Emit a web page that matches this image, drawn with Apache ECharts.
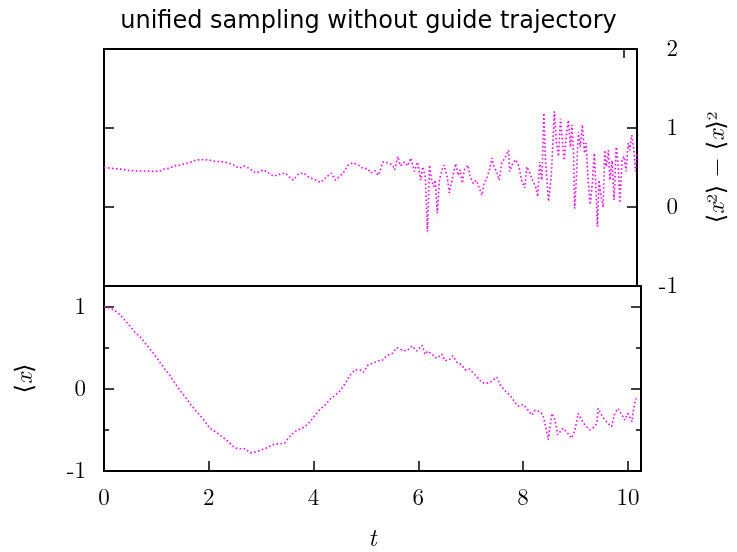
<!DOCTYPE html>
<html>
<head>
<meta charset="utf-8">
<title>unified sampling without guide trajectory</title>
<script src="https://cdn.jsdelivr.net/npm/echarts@6/dist/echarts.min.js"></script>
<style>
  html, body { margin: 0; padding: 0; background: #ffffff; }
  #chart { width: 737px; height: 552px; }
</style>
</head>
<body>
<div id="chart"></div>
<script>
// Variance <x^2> - <x>^2 versus time t (upper panel)
const varT = [0.00,0.15,0.30,0.50,0.78,1.07,1.16,1.26,1.35,1.45,1.64,1.77,1.93,2.02,2.12,2.31,2.46,2.60,2.69,2.79,2.92,3.07,3.26,3.40,3.49,3.56,3.64,3.74,3.84,3.93,4.08,4.16,4.26,4.37,4.45,4.60,4.69,4.79,4.89,4.98,5.08,5.13,5.21,5.27,5.32,5.36,5.46,5.55,5.59,5.65,5.70,5.78,5.84,5.90,5.97,6.03,6.09,6.13,6.18,6.22,6.26,6.30,6.34,6.37,6.41,6.45,6.50,6.54,6.60,6.64,6.70,6.76,6.81,6.85,6.89,6.93,7.00,7.04,7.10,7.16,7.21,7.27,7.31,7.37,7.42,7.46,7.50,7.56,7.60,7.65,7.71,7.78,7.80,7.86,7.92,7.98,8.03,8.09,8.13,8.19,8.24,8.30,8.34,8.38,8.42,8.46,8.49,8.55,8.60,8.66,8.70,8.74,8.78,8.82,8.85,8.89,8.93,8.97,9.00,9.03,9.05,9.08,9.12,9.16,9.20,9.24,9.27,9.31,9.35,9.39,9.43,9.47,9.49,9.52,9.56,9.60,9.63,9.66,9.70,9.73,9.77,9.81,9.85,9.89,9.92,9.96,10.00,10.04,10.08,10.11,10.15,10.19,10.22,10.25];
const varV = [0.50,0.49,0.48,0.46,0.455,0.45,0.48,0.49,0.52,0.53,0.56,0.595,0.60,0.595,0.58,0.57,0.545,0.49,0.52,0.49,0.43,0.47,0.39,0.42,0.43,0.38,0.34,0.42,0.43,0.38,0.34,0.31,0.37,0.43,0.34,0.43,0.53,0.56,0.53,0.49,0.48,0.43,0.46,0.40,0.48,0.57,0.56,0.53,0.47,0.64,0.52,0.57,0.52,0.62,0.45,0.57,0.34,0.51,0.38,-0.31,0.53,0.34,0.26,0.34,-0.08,0.34,0.47,0.53,0.38,0.18,0.36,0.55,0.40,0.47,0.30,0.47,0.53,0.38,0.30,0.34,0.25,0.15,0.30,0.38,0.49,0.62,0.51,0.43,0.34,0.56,0.62,0.72,0.45,0.55,0.60,0.51,0.34,0.24,0.51,0.43,0.34,0.26,0.13,0.57,0.34,1.19,0.59,0.07,0.38,1.21,0.81,0.64,1.12,0.81,0.59,0.89,1.10,0.76,1.04,0.68,-0.02,0.30,0.95,0.76,1.04,0.68,0.81,0.34,0.03,0.30,0.68,0.09,-0.25,0.34,0.13,0.00,0.72,0.51,0.72,0.34,0.59,0.09,0.76,0.51,0.05,0.59,0.64,0.45,0.81,0.72,0.91,0.72,0.45,0.68];

// Mean <x> versus time t (lower panel)
const meanT = [0.00,0.11,0.21,0.31,0.40,0.50,0.59,0.69,0.78,0.88,0.97,1.07,1.16,1.26,1.35,1.45,1.55,1.64,1.74,1.83,1.93,2.02,2.12,2.21,2.31,2.40,2.50,2.60,2.69,2.79,2.88,2.98,3.07,3.17,3.26,3.36,3.45,3.53,3.64,3.74,3.84,3.93,4.03,4.12,4.22,4.31,4.41,4.50,4.60,4.69,4.79,4.89,4.95,5.04,5.13,5.23,5.32,5.39,5.50,5.59,5.69,5.78,5.88,5.97,6.07,6.13,6.18,6.26,6.35,6.45,6.51,6.60,6.66,6.74,6.83,6.89,6.98,7.08,7.18,7.27,7.37,7.43,7.50,7.56,7.65,7.75,7.84,7.90,8.00,8.07,8.17,8.23,8.32,8.38,8.45,8.48,8.55,8.61,8.66,8.76,8.85,8.93,8.99,9.05,9.12,9.18,9.27,9.33,9.41,9.43,9.50,9.56,9.62,9.69,9.75,9.81,9.89,9.94,10.00,10.08,10.10,10.15,10.19];
const meanV = [1.00,0.98,0.95,0.90,0.83,0.76,0.69,0.63,0.56,0.48,0.41,0.32,0.24,0.16,0.07,-0.02,-0.10,-0.18,-0.26,-0.32,-0.40,-0.48,-0.52,-0.56,-0.61,-0.66,-0.72,-0.73,-0.73,-0.78,-0.77,-0.75,-0.73,-0.70,-0.67,-0.67,-0.66,-0.59,-0.52,-0.49,-0.46,-0.40,-0.32,-0.25,-0.20,-0.13,-0.08,-0.03,0.06,0.16,0.23,0.23,0.20,0.29,0.31,0.34,0.35,0.40,0.43,0.50,0.47,0.46,0.52,0.46,0.53,0.42,0.46,0.42,0.37,0.42,0.34,0.36,0.40,0.32,0.29,0.23,0.24,0.17,0.10,0.06,0.08,0.11,0.14,0.05,-0.02,-0.08,-0.16,-0.21,-0.19,-0.24,-0.32,-0.26,-0.28,-0.32,-0.52,-0.62,-0.30,-0.38,-0.56,-0.48,-0.54,-0.60,-0.50,-0.30,-0.38,-0.44,-0.50,-0.48,-0.42,-0.24,-0.32,-0.38,-0.42,-0.46,-0.30,-0.24,-0.32,-0.38,-0.30,-0.40,-0.28,-0.12,-0.14];

// Tick values
const tTicks = [0, 2, 4, 6, 8, 10];
const varTickLabels = [-1, 0, 1, 2];
const meanTickLabels = [-1, 0, 1];
const meanMinorTicks = [-0.5, 0.5];

const T_MAX = 10.25;
const INK = '#000000';
const SERIF = '"Latin Modern Roman", "Liberation Serif", "DejaVu Serif", serif';
const lineColor = '#ff00ff';

const frame = { show: true, onZero: false, lineStyle: { color: INK, width: 2 } };
const noLine = { show: false, onZero: false };
function ticks(values, len) {
  return { show: true, inside: true, length: len, customValues: values,
           lineStyle: { color: INK, width: 1.5 } };
}
function pairs(xs, ys) { return xs.map((x, i) => [x, ys[i]]); }

const chart = echarts.init(document.getElementById('chart'), null, { renderer: 'canvas' });

const nameRich = {
  m: { fontFamily: SERIF, fontSize: 24, color: INK },
  i: { fontFamily: SERIF, fontSize: 24, fontStyle: 'italic', color: INK }
};

chart.setOption({
  animation: false,
  backgroundColor: '#ffffff',
  title: {
    text: 'unified sampling without guide trajectory',
    left: 'center',
    top: 5,
    textStyle: { fontFamily: '"DejaVu Sans", sans-serif', fontSize: 24, fontWeight: 'normal', color: INK }
  },
  grid: [
    { left: 104, right: 96, top: 49, height: 237 },
    { left: 104, right: 96, top: 286, height: 187 }
  ],
  xAxis: [
    { gridIndex: 0, type: 'value', min: 0, max: T_MAX, position: 'bottom',
      axisLine: frame, axisTick: { show: false }, axisLabel: { show: false }, splitLine: { show: false } },
    { gridIndex: 0, type: 'value', min: 0, max: T_MAX, position: 'top',
      axisLine: frame, axisTick: ticks([10], 9), axisLabel: { show: false }, splitLine: { show: false } },
    { gridIndex: 1, type: 'value', min: 0, max: T_MAX, position: 'bottom',
      axisLine: frame, axisTick: ticks(tTicks, 10),
      axisLabel: { show: true, customValues: tTicks, margin: 15, color: INK, fontFamily: SERIF, fontSize: 23 },
      splitLine: { show: false },
      name: 't', nameLocation: 'middle', nameGap: 55,
      nameTextStyle: { fontFamily: SERIF, fontStyle: 'italic', fontSize: 25, color: INK } },
    { gridIndex: 1, type: 'value', min: 0, max: T_MAX, position: 'top',
      axisLine: frame, axisTick: { show: false }, axisLabel: { show: false }, splitLine: { show: false } }
  ],
  yAxis: [
    { gridIndex: 0, type: 'value', min: -1, max: 2, position: 'left',
      axisLine: frame, axisTick: ticks([0, 1], 10), axisLabel: { show: false }, splitLine: { show: false } },
    { gridIndex: 0, type: 'value', min: -1, max: 2, position: 'right',
      axisLine: frame, axisTick: ticks([0, 1], 10),
      axisLabel: { show: true, customValues: varTickLabels, align: 'right', margin: 41,
                   color: INK, fontFamily: SERIF, fontSize: 23 },
      splitLine: { show: false },
      name: '{m|⟨}{i|x}{m|²⟩ − ⟨}{i|x}{m|⟩²}', nameLocation: 'middle', nameGap: 68, nameRotate: 90,
      nameTextStyle: { color: INK, fontFamily: SERIF, fontSize: 24, rich: nameRich } },
    { gridIndex: 1, type: 'value', min: -1, max: 1.25, position: 'left',
      axisLine: frame, axisTick: ticks([0, 1], 10),
      axisLabel: { show: true, customValues: meanTickLabels, margin: 18,
                   color: INK, fontFamily: SERIF, fontSize: 23 },
      splitLine: { show: false },
      name: '{m|⟨}{i|x}{m|⟩}', nameLocation: 'middle', nameGap: 67, nameRotate: 90,
      nameTextStyle: { color: INK, fontFamily: SERIF, fontSize: 24, rich: nameRich } },
    { gridIndex: 1, type: 'value', min: -1, max: 1.25, position: 'left',
      axisLine: noLine, axisTick: ticks(meanMinorTicks, 5), axisLabel: { show: false }, splitLine: { show: false } },
    { gridIndex: 1, type: 'value', min: -1, max: 1.25, position: 'right',
      axisLine: frame, axisTick: ticks([0, 1], 10), axisLabel: { show: false }, splitLine: { show: false } },
    { gridIndex: 1, type: 'value', min: -1, max: 1.25, position: 'right',
      axisLine: noLine, axisTick: ticks(meanMinorTicks, 5), axisLabel: { show: false }, splitLine: { show: false } }
  ],
  series: [
    { name: 'variance', type: 'line', xAxisIndex: 0, yAxisIndex: 0,
      data: pairs(varT, varV), showSymbol: false, clip: true,
      lineStyle: { color: lineColor, width: 1.6, type: [1.6, 2.4] } },
    { name: 'mean', type: 'line', xAxisIndex: 2, yAxisIndex: 2,
      data: pairs(meanT, meanV), showSymbol: false, clip: true,
      lineStyle: { color: lineColor, width: 1.6, type: [1.6, 2.4] } }
  ]
});
</script>
</body>
</html>
